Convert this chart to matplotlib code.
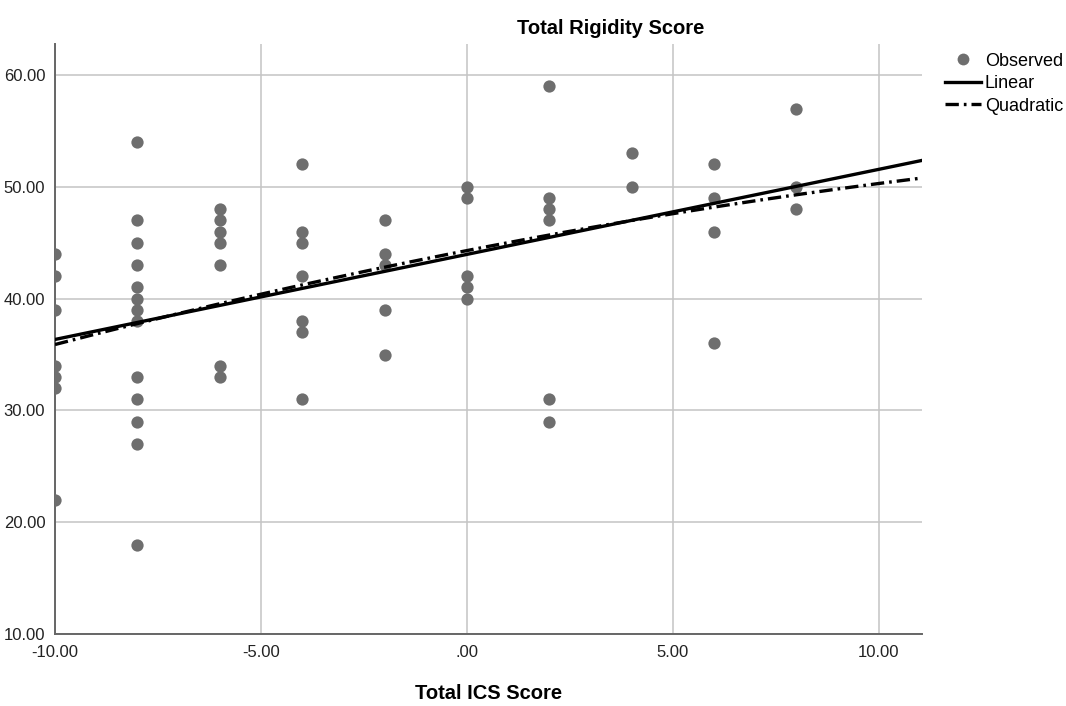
import numpy as np
import matplotlib
matplotlib.use('Agg')
import matplotlib.pyplot as plt
from matplotlib.ticker import FuncFormatter
from matplotlib.lines import Line2D

plt.rcParams['font.family'] = ['Liberation Sans', 'DejaVu Sans']

# Observed values, grouped by Total ICS Score
ics_levels = [-10, -8, -6, -4, -2, 0, 2, 4, 6, 8]
rigidity = [
    [44, 42, 39, 34, 33, 32, 22],
    [54, 47, 45, 43, 41, 40, 39, 38, 33, 31, 29, 27, 18],
    [48, 47, 46, 45, 43, 34, 33],
    [52, 46, 45, 42, 38, 37, 31],
    [47, 44, 43, 39, 35],
    [50, 49, 42, 41, 40],
    [59, 49, 48, 47, 31, 29],
    [53, 50],
    [52, 49, 46, 36],
    [57, 50, 48],
]

x_ticks = [-10, -5, 0, 5, 10]
y_ticks = [10, 20, 30, 40, 50, 60]

x = np.concatenate([[lv] * len(vals) for lv, vals in zip(ics_levels, rigidity)]).astype(float)
y = np.concatenate(rigidity).astype(float)

# linear + quadratic fits from the observed points
lin = np.polyfit(x, y, 1)
quad = np.polyfit(x, y, 2)

fig = plt.figure(figsize=(10.66, 7.06), dpi=100)
ax = fig.add_axes([0.0516, 0.102, 0.8134, 0.836])

xx = np.linspace(-10, 11.05, 200)
ax.scatter(x, y, s=78, color='#6e6e6e', zorder=3, linewidths=0)
ax.plot(xx, np.polyval(lin, xx), color='black', lw=2.4, zorder=4)
ax.plot(xx, np.polyval(quad, xx), color='black', lw=2.4, zorder=4,
        dashes=(4, 1.5, 0.8, 1.5))

ax.set_xlim(-10, 11.05)
ax.set_ylim(10, 62.8)
ax.set_xticks(x_ticks)
ax.set_yticks(y_ticks)

def fmt(v, pos):
    s = '%.2f' % v
    if s.startswith('0.'):
        s = s[1:]
    return s

ax.xaxis.set_major_formatter(FuncFormatter(fmt))
ax.yaxis.set_major_formatter(FuncFormatter(fmt))
ax.tick_params(length=0, labelsize=12, colors='#222222')
ax.tick_params(axis='x', pad=8)
ax.tick_params(axis='y', pad=7)

ax.grid(True, color='#c4c4c4', lw=1.1)
ax.set_axisbelow(True)
for side in ['top', 'right']:
    ax.spines[side].set_visible(False)
for side in ['left', 'bottom']:
    ax.spines[side].set_color('#666666')
    ax.spines[side].set_linewidth(1.4)

ax.set_xlabel('Total ICS Score', fontsize=14.5, fontweight='bold', labelpad=17)
fig.text(0.573, 0.96, 'Total Rigidity Score', fontsize=14.5, fontweight='bold',
         ha='center', va='center')

handles = [
    Line2D([], [], marker='o', ls='none', color='#6e6e6e', markersize=8.5, markeredgewidth=0),
    Line2D([], [], color='black', lw=2.4),
    Line2D([], [], color='black', lw=2.4, dashes=(4, 1.5, 0.8, 1.5)),
]
fig.legend(handles, ['Observed', 'Linear', 'Quadratic'], loc='upper left',
           bbox_to_anchor=(0.878, 0.938), frameon=False, fontsize=13,
           handlelength=2.0, handletextpad=0.2, labelspacing=0.3, borderpad=0)

fig.savefig('out.png', dpi=100)
